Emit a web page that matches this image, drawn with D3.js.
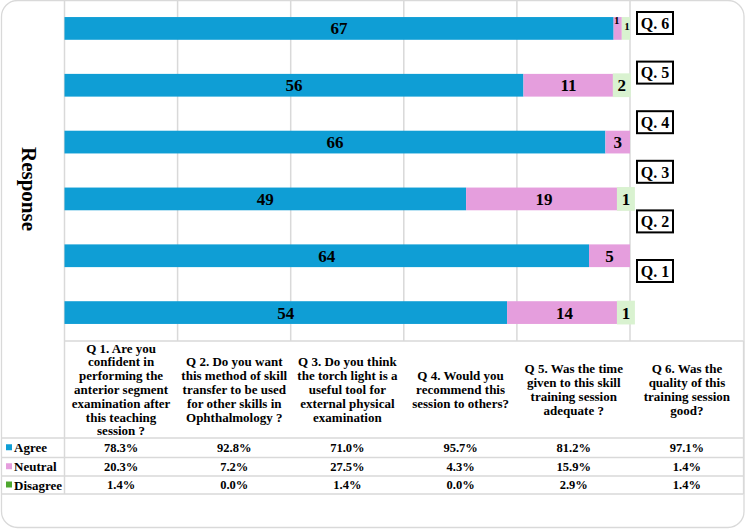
<!DOCTYPE html>
<html>
<head>
<meta charset="utf-8">
<script src="https://cdn.jsdelivr.net/npm/d3@7"></script>
<style>
  html, body { margin: 0; padding: 0; background: #fff; }
  svg { display: block; font-family: 'Liberation Serif', 'Times New Roman', serif; font-weight: bold; }
</style>
</head>
<body>
<div id="chart"></div>
<script>
const questions = ['Q1', 'Q2', 'Q3', 'Q4', 'Q5', 'Q6']
const boxLabels = ['Q. 1', 'Q. 2', 'Q. 3', 'Q. 4', 'Q. 5', 'Q. 6']
const agree = [54, 64, 49, 66, 56, 67]
const neutral = [14, 5, 19, 3, 11, 1]
const disagree = [1, 0, 1, 0, 2, 1]

const agreePct = ['78.3%', '92.8%', '71.0%', '95.7%', '81.2%', '97.1%']
const neutralPct = ['20.3%', '7.2%', '27.5%', '4.3%', '15.9%', '1.4%']
const disagreePct = ['1.4%', '0.0%', '1.4%', '0.0%', '2.9%', '1.4%']

const headers = [
  ['Q 1. Are you', 'confident in', 'performing the', 'anterior segment', 'examination after', 'this teaching', 'session ?'],
  ['Q 2. Do you want', 'this method of skill', 'transfer to be used', 'for other skills in', 'Ophthalmology ?'],
  ['Q 3. Do you think', 'the torch light is a', 'useful tool for', 'external physical', 'examination'],
  ['Q 4. Would you', 'recommend this', 'session to others?'],
  ['Q 5. Was the time', 'given to this skill', 'training session', 'adequate ?'],
  ['Q 6. Was the', 'quality of this', 'training session', 'good?']
]
const seriesNames = ['Agree', 'Neutral', 'Disagree']

const width = 750
const height = 529
const plotLeft = 64.5
const plotRight = 630
const plotBottom = 341
const tableRight = 743.5
const rowLines = [438, 457.5, 476, 494]

const barColors = { Agree: '#0f9ed5', Neutral: '#e59edd', Disagree: '#d9f2d0' }
const keyColors = { Agree: '#0f9ed5', Neutral: '#e59edd', Disagree: '#4ea72e' }
const gridColor = '#d9d9d9'

const svg = d3.select('#chart').append('svg')
  .attr('width', width)
  .attr('height', height)

// outer chart border
svg.append('rect')
  .attr('x', 1.5).attr('y', 0.5)
  .attr('width', 742.5).attr('height', 527)
  .attr('rx', 16).attr('ry', 16)
  .attr('fill', '#fff')
  .attr('stroke', gridColor)
  .attr('stroke-width', 1.3)

const x = d3.scaleLinear().domain([0, 1]).range([plotLeft, plotRight])
const y = d3.scaleBand().domain(questions.slice().reverse()).range([0, plotBottom])
  .paddingInner(0.6).paddingOuter(0.3)

// vertical gridlines
svg.append('g')
  .selectAll('line')
  .data(x.ticks(5))
  .enter()
  .append('line')
  .attr('x1', d => x(d)).attr('x2', d => x(d))
  .attr('y1', 1).attr('y2', d => d === 0 ? rowLines[3] : plotBottom)
  .attr('stroke', gridColor)
  .attr('stroke-width', 1.5)

// stacked data
const rows = questions.map((q, i) => {
  const total = agree[i] + neutral[i] + disagree[i]
  return { q, Agree: agree[i], Neutral: neutral[i], Disagree: disagree[i], total }
})
const stack = d3.stack().keys(seriesNames)
  .value((d, k) => d[k] / d.total)
const series = stack(rows)

const bars = svg.append('g')
series.forEach(s => {
  bars.selectAll('rect.' + s.key)
    .data(s.filter(d => d.data[s.key] > 0))
    .enter()
    .append('rect')
    .attr('class', s.key)
    .attr('x', d => x(d[0]))
    .attr('y', d => y(d.data.q))
    .attr('width', d => x(d[1]) - x(d[0]))
    .attr('height', y.bandwidth())
    .attr('fill', barColors[s.key])
})

// data labels; tiny segments sitting next to each other get a smaller font
const segW = (d, key) => x(d.data[key] / d.data.total) - x(0)
const labels = svg.append('g')
series.forEach(s => {
  s.filter(d => d.data[s.key] > 0).forEach(d => {
    const w = x(d[1]) - x(d[0])
    const cx = (x(d[0]) + x(d[1])) / 2
    const cy = y(d.data.q) + y.bandwidth() / 2
    const small = s.key !== 'Agree' && segW(d, 'Neutral') < 12 && (s.key === 'Neutral' ? segW(d, 'Disagree') : w) < 12 && d.data.Disagree > 0
    if (s.key === 'Disagree' && !small) {
      labels.append('rect')
        .attr('x', cx - Math.max(w, 18) / 2)
        .attr('y', y(d.data.q) - 0.5)
        .attr('width', Math.max(w, 18))
        .attr('height', y.bandwidth() + 1)
        .attr('fill', barColors.Disagree)
    }
    labels.append('text')
      .attr('x', s.key === 'Neutral' && small ? cx - 1 : cx + (s.key === 'Disagree' && small ? 1 : 0))
      .attr('y', s.key === 'Neutral' && small ? cy - 8 : cy - (small ? 2 : 0))
      .attr('dy', '0.35em')
      .attr('text-anchor', 'middle')
      .attr('font-size', small ? 11 : 17)
      .attr('fill', '#000')
      .text(d.data[s.key])
  })
})

// question boxes on the right
const boxY = d3.scalePoint().domain(questions.slice().reverse()).range([23, 271])
const boxes = svg.append('g')
questions.forEach((q, i) => {
  const g = boxes.append('g').attr('transform', `translate(655,${boxY(q)})`)
  g.append('rect')
    .attr('x', -18).attr('y', -11)
    .attr('width', 36).attr('height', 22)
    .attr('fill', '#fff')
    .attr('stroke', '#000')
    .attr('stroke-width', 2)
  g.append('text')
    .attr('text-anchor', 'middle')
    .attr('dy', '0.36em')
    .attr('font-size', 16)
    .text(boxLabels[i])
})

// axis title
svg.append('text')
  .attr('transform', 'translate(21.5,189) rotate(90)')
  .attr('text-anchor', 'middle')
  .attr('font-size', 21)
  .text('Response')

// data table
const colW = (tableRight - plotLeft) / questions.length
const col = d3.scaleBand().domain(questions).range([plotLeft, tableRight])
const table = svg.append('g')

table.append('line')
  .attr('x1', plotLeft).attr('x2', tableRight)
  .attr('y1', plotBottom).attr('y2', plotBottom)
  .attr('stroke', gridColor).attr('stroke-width', 1.3)
rowLines.forEach(ry => {
  table.append('line')
    .attr('x1', 1.5).attr('x2', tableRight)
    .attr('y1', ry).attr('y2', ry)
    .attr('stroke', gridColor).attr('stroke-width', 1.3)
})
table.append('line')
  .attr('x1', tableRight).attr('x2', tableRight)
  .attr('y1', plotBottom).attr('y2', rowLines[3])
  .attr('stroke', gridColor).attr('stroke-width', 1.3)

// header cells
const headMid = (plotBottom + rowLines[0]) / 2
headers.forEach((lines, i) => {
  const t = table.append('text')
    .attr('text-anchor', 'middle')
    .attr('font-size', 13)
  const lh = 13.8
  lines.forEach((ln, j) => {
    t.append('tspan')
      .attr('x', col(questions[i]) + colW / 2)
      .attr('y', headMid + (j - (lines.length - 1) / 2) * lh)
      .attr('dy', '0.35em')
      .text(ln)
  })
})

// value rows
const pctRows = [agreePct, neutralPct, disagreePct]
pctRows.forEach((vals, r) => {
  const cy = (rowLines[r] + rowLines[r + 1]) / 2
  table.append('rect')
    .attr('x', 6).attr('y', cy - 3.5)
    .attr('width', 6).attr('height', 6)
    .attr('fill', keyColors[seriesNames[r]])
  table.append('text')
    .attr('x', 14).attr('y', cy)
    .attr('dy', '0.35em')
    .attr('font-size', 13)
    .text(seriesNames[r])
  vals.forEach((v, i) => {
    table.append('text')
      .attr('x', col(questions[i]) + colW / 2)
      .attr('y', cy)
      .attr('dy', '0.35em')
      .attr('text-anchor', 'middle')
      .attr('font-size', 12.5)
      .text(v)
  })
})
</script>
</body>
</html>
